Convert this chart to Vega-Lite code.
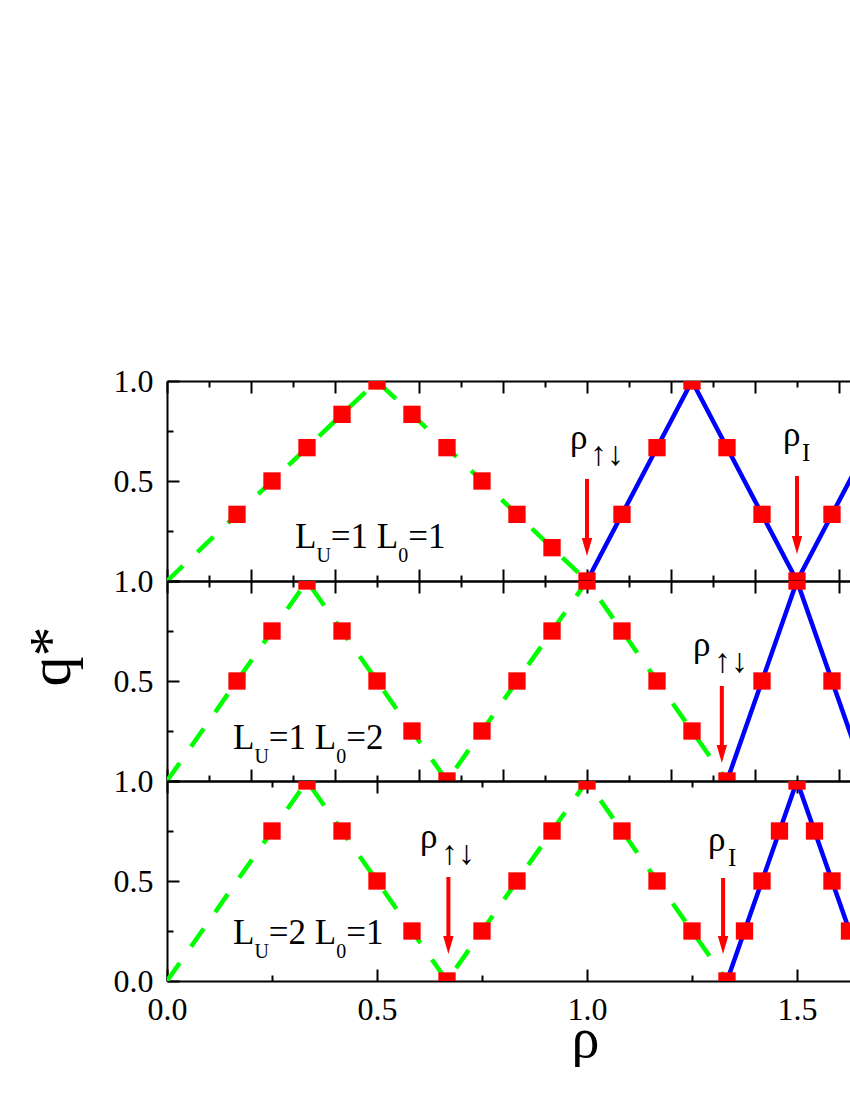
{
  "$schema": "https://vega.github.io/schema/vega-lite/v6.json",
  "padding": {"left": 21, "top": 365, "right": 0, "bottom": 0},
  "background": "white",
  "bounds": "flush",
  "spacing": 0,
  "config": {
    "view": {"stroke": null},
    "concat": {"spacing": 0},
    "axis": {
      "domainColor": "black", "domainWidth": 2, "tickColor": "black", "tickWidth": 2,
      "grid": false, "labelFont": "Liberation Serif", "labelFontSize": 32, "labelColor": "black",
      "titleFont": "Liberation Serif", "titleFontWeight": "normal", "titleColor": "black",
      "labelFlush": false, "labelOverlap": false
    },
    "text": {"font": "Liberation Serif", "color": "black"}
  },
  "datasets": {
    "green": [
      {"panel": 1, "rho": 0, "q": 0}, {"panel": 1, "rho": 0.5, "q": 1}, {"panel": 1, "rho": 1, "q": 0},
      {"panel": 2, "rho": 0, "q": 0}, {"panel": 2, "rho": 0.3333, "q": 1}, {"panel": 2, "rho": 0.6667, "q": 0}, {"panel": 2, "rho": 1, "q": 1}, {"panel": 2, "rho": 1.3333, "q": 0},
      {"panel": 3, "rho": 0, "q": 0}, {"panel": 3, "rho": 0.3333, "q": 1}, {"panel": 3, "rho": 0.6667, "q": 0}, {"panel": 3, "rho": 1, "q": 1}, {"panel": 3, "rho": 1.3333, "q": 0}
    ],
    "blue": [
      {"panel": 1, "rho": 1, "q": 0}, {"panel": 1, "rho": 1.25, "q": 1}, {"panel": 1, "rho": 1.5, "q": 0}, {"panel": 1, "rho": 1.75, "q": 1},
      {"panel": 2, "rho": 1.3333, "q": 0}, {"panel": 2, "rho": 1.5, "q": 1}, {"panel": 2, "rho": 1.6667, "q": 0},
      {"panel": 3, "rho": 1.3333, "q": 0}, {"panel": 3, "rho": 1.5, "q": 1}, {"panel": 3, "rho": 1.6667, "q": 0}
    ],
    "squares": [
      {"panel": 1, "rho": 0.1667, "q": 0.3333}, {"panel": 1, "rho": 0.25, "q": 0.5}, {"panel": 1, "rho": 0.3333, "q": 0.6667}, {"panel": 1, "rho": 0.4167, "q": 0.8333}, {"panel": 1, "rho": 0.5, "q": 1}, {"panel": 1, "rho": 0.5833, "q": 0.8333}, {"panel": 1, "rho": 0.6667, "q": 0.6667}, {"panel": 1, "rho": 0.75, "q": 0.5}, {"panel": 1, "rho": 0.8333, "q": 0.3333}, {"panel": 1, "rho": 0.9167, "q": 0.1667}, {"panel": 1, "rho": 1, "q": 0},
      {"panel": 1, "rho": 1.0833, "q": 0.3333}, {"panel": 1, "rho": 1.1667, "q": 0.6667}, {"panel": 1, "rho": 1.25, "q": 1}, {"panel": 1, "rho": 1.3333, "q": 0.6667}, {"panel": 1, "rho": 1.4167, "q": 0.3333}, {"panel": 1, "rho": 1.5, "q": 0}, {"panel": 1, "rho": 1.5833, "q": 0.3333},
      {"panel": 2, "rho": 0.1667, "q": 0.5}, {"panel": 2, "rho": 0.25, "q": 0.75}, {"panel": 2, "rho": 0.3333, "q": 1}, {"panel": 2, "rho": 0.4167, "q": 0.75}, {"panel": 2, "rho": 0.5, "q": 0.5}, {"panel": 2, "rho": 0.5833, "q": 0.25}, {"panel": 2, "rho": 0.6667, "q": 0}, {"panel": 2, "rho": 0.75, "q": 0.25}, {"panel": 2, "rho": 0.8333, "q": 0.5}, {"panel": 2, "rho": 0.9167, "q": 0.75}, {"panel": 2, "rho": 1, "q": 1}, {"panel": 2, "rho": 1.0833, "q": 0.75}, {"panel": 2, "rho": 1.1667, "q": 0.5}, {"panel": 2, "rho": 1.25, "q": 0.25}, {"panel": 2, "rho": 1.3333, "q": 0},
      {"panel": 2, "rho": 1.4167, "q": 0.5}, {"panel": 2, "rho": 1.5, "q": 1}, {"panel": 2, "rho": 1.5833, "q": 0.5},
      {"panel": 3, "rho": 0.25, "q": 0.75}, {"panel": 3, "rho": 0.3333, "q": 1}, {"panel": 3, "rho": 0.4167, "q": 0.75}, {"panel": 3, "rho": 0.5, "q": 0.5}, {"panel": 3, "rho": 0.5833, "q": 0.25}, {"panel": 3, "rho": 0.6667, "q": 0}, {"panel": 3, "rho": 0.75, "q": 0.25}, {"panel": 3, "rho": 0.8333, "q": 0.5}, {"panel": 3, "rho": 0.9167, "q": 0.75}, {"panel": 3, "rho": 1, "q": 1}, {"panel": 3, "rho": 1.0833, "q": 0.75}, {"panel": 3, "rho": 1.1667, "q": 0.5}, {"panel": 3, "rho": 1.25, "q": 0.25}, {"panel": 3, "rho": 1.3333, "q": 0},
      {"panel": 3, "rho": 1.375, "q": 0.25}, {"panel": 3, "rho": 1.4167, "q": 0.5}, {"panel": 3, "rho": 1.4583, "q": 0.75}, {"panel": 3, "rho": 1.5, "q": 1}, {"panel": 3, "rho": 1.5417, "q": 0.75}, {"panel": 3, "rho": 1.5833, "q": 0.5}, {"panel": 3, "rho": 1.625, "q": 0.25}
    ],
    "arrows": [
      {"panel": 1, "rho": 1.0, "q_top": 0.51, "q_head": 0.195, "q_tip": 0.125},
      {"panel": 1, "rho": 1.5, "q_top": 0.525, "q_head": 0.205, "q_tip": 0.135},
      {"panel": 2, "rho": 1.321, "q_top": 0.475, "q_head": 0.16, "q_tip": 0.09},
      {"panel": 3, "rho": 0.67, "q_top": 0.52, "q_head": 0.205, "q_tip": 0.135},
      {"panel": 3, "rho": 1.324, "q_top": 0.515, "q_head": 0.205, "q_tip": 0.135}
    ],
    "texts": [
      {"panel": 1, "label": "L", "role": "main", "rho": 0.305, "q": 0.165, "text": "L"},
      {"panel": 1, "label": "L", "role": "sub", "rho": 0.3557, "q": 0.165, "text": "U"},
      {"panel": 1, "label": "L", "role": "main", "rho": 0.39, "q": 0.165, "text": "=1 L"},
      {"panel": 1, "label": "L", "role": "sub", "rho": 0.5505, "q": 0.165, "text": "0"},
      {"panel": 1, "label": "L", "role": "main", "rho": 0.5743, "q": 0.165, "text": "=1"},
      {"panel": 2, "label": "L", "role": "main", "rho": 0.1571, "q": 0.16, "text": "L"},
      {"panel": 2, "label": "L", "role": "sub", "rho": 0.2081, "q": 0.16, "text": "U"},
      {"panel": 2, "label": "L", "role": "main", "rho": 0.2424, "q": 0.16, "text": "=1 L"},
      {"panel": 2, "label": "L", "role": "sub", "rho": 0.4029, "q": 0.16, "text": "0"},
      {"panel": 2, "label": "L", "role": "main", "rho": 0.4267, "q": 0.16, "text": "=2"},
      {"panel": 3, "label": "L", "role": "main", "rho": 0.1571, "q": 0.185, "text": "L"},
      {"panel": 3, "label": "L", "role": "sub", "rho": 0.2081, "q": 0.185, "text": "U"},
      {"panel": 3, "label": "L", "role": "main", "rho": 0.2424, "q": 0.185, "text": "=2 L"},
      {"panel": 3, "label": "L", "role": "sub", "rho": 0.4029, "q": 0.185, "text": "0"},
      {"panel": 3, "label": "L", "role": "main", "rho": 0.4267, "q": 0.185, "text": "=1"},
      {"panel": 1, "label": "rho", "role": "main", "rho": 0.9595, "q": 0.66, "text": "ρ"},
      {"panel": 1, "label": "rho", "role": "sub", "rho": 1.0071, "q": 0.66, "text": "↑↓"},
      {"panel": 1, "label": "rho", "role": "main", "rho": 1.4667, "q": 0.675, "text": "ρ"},
      {"panel": 1, "label": "rho", "role": "sub", "rho": 1.512, "q": 0.675, "text": "I"},
      {"panel": 2, "label": "rho", "role": "main", "rho": 1.2524, "q": 0.625, "text": "ρ"},
      {"panel": 2, "label": "rho", "role": "sub", "rho": 1.3024, "q": 0.625, "text": "↑↓"},
      {"panel": 3, "label": "rho", "role": "main", "rho": 0.6024, "q": 0.665, "text": "ρ"},
      {"panel": 3, "label": "rho", "role": "sub", "rho": 0.6524, "q": 0.665, "text": "↑↓"},
      {"panel": 3, "label": "rho", "role": "main", "rho": 1.288, "q": 0.65, "text": "ρ"},
      {"panel": 3, "label": "rho", "role": "sub", "rho": 1.3357, "q": 0.65, "text": "I"}
    ]
  },
  "vconcat": [
    {
      "width": 683, "height": 200,
      "resolve": {"axis": {"x": "independent"}},
      "layer": [
        {"data": {"name": "green"}, "transform": [{"filter": "datum.panel == 1"}],
         "mark": {"type": "line", "color": "#00FF00", "strokeWidth": 4.5, "strokeDash": [22, 20], "clip": true},
         "encoding": {
           "x": {"field": "rho", "type": "quantitative", "scale": {"domain": [0, 1.6262], "nice": false, "zero": false},
                 "axis": {"orient": "bottom", "values": [0, 0.1, 0.2, 0.3, 0.4, 0.5, 0.6, 0.7, 0.8, 0.9, 1, 1.1, 1.2, 1.3, 1.4, 1.5, 1.6], "labels": false, "title": null,
                          "tickSize": {"condition": {"test": "round(datum.value*10) % 2 == 0", "value": -12}, "value": -6}}},
           "y": {"field": "q", "type": "quantitative", "scale": {"domain": [0, 1], "nice": false},
                 "axis": {"values": [0, 0.25, 0.5, 0.75, 1], "title": null, "labelPadding": 26, "labelFont": "Liberation Serif", "labelFontSize": 32,
                          "labelExpr": "datum.value == 0.5 || datum.value == 1 ? format(datum.value, '.1f') : ''",
                          "tickSize": {"condition": {"test": "datum.value % 0.5 == 0", "value": -12}, "value": -6}}},
           "order": {"field": "rho"}
         }},
        {"data": {"name": "blue"}, "transform": [{"filter": "datum.panel == 1"}],
         "mark": {"type": "line", "color": "#0000FF", "strokeWidth": 4.5, "clip": true},
         "encoding": {
           "x": {"field": "rho", "type": "quantitative",
                 "axis": {"orient": "top", "values": [0, 0.1, 0.2, 0.3, 0.4, 0.5, 0.6, 0.7, 0.8, 0.9, 1, 1.1, 1.2, 1.3, 1.4, 1.5, 1.6], "labels": false, "title": null,
                          "tickSize": {"condition": {"test": "round(datum.value*10) % 2 == 0", "value": -12}, "value": -6}}},
           "y": {"field": "q", "type": "quantitative"},
           "order": {"field": "rho"}
         }},
        {"data": {"name": "squares"}, "transform": [{"filter": "datum.panel == 1"}],
         "mark": {"type": "point", "shape": "square", "filled": true, "color": "#FF0000", "opacity": 1, "size": 300, "clip": true},
         "encoding": {"x": {"field": "rho", "type": "quantitative", "axis": null}, "y": {"field": "q", "type": "quantitative"}}},
        {"data": {"name": "arrows"}, "transform": [{"filter": "datum.panel == 1"}],
         "mark": {"type": "rule", "color": "#FF0000", "strokeWidth": 4},
         "encoding": {"x": {"field": "rho", "type": "quantitative", "axis": null}, "y": {"field": "q_top", "type": "quantitative"}, "y2": {"field": "q_head"}}},
        {"data": {"name": "arrows"}, "transform": [{"filter": "datum.panel == 1"}],
         "mark": {"type": "point", "shape": "M0,0 L-0.26,-0.9 L0.26,-0.9 Z", "filled": true, "color": "#FF0000", "opacity": 1, "size": 1600},
         "encoding": {"x": {"field": "rho", "type": "quantitative", "axis": null}, "y": {"field": "q_tip", "type": "quantitative"}}},
        {"data": {"name": "texts"}, "transform": [{"filter": "datum.panel == 1 && datum.role == 'main'"}],
         "mark": {"type": "text", "align": "left", "baseline": "alphabetic", "fontSize": 35},
         "encoding": {"x": {"field": "rho", "type": "quantitative", "axis": null}, "y": {"field": "q", "type": "quantitative"}, "text": {"field": "text"}}},
        {"data": {"name": "texts"}, "transform": [{"filter": "datum.panel == 1 && datum.role == 'sub' && datum.label == 'L'"}],
         "mark": {"type": "text", "align": "left", "baseline": "alphabetic", "fontSize": 20, "dy": 14},
         "encoding": {"x": {"field": "rho", "type": "quantitative", "axis": null}, "y": {"field": "q", "type": "quantitative"}, "text": {"field": "text"}}},
        {"data": {"name": "texts"}, "transform": [{"filter": "datum.panel == 1 && datum.role == 'sub' && datum.label == 'rho' && datum.text != 'I'"}],
         "mark": {"type": "text", "align": "left", "baseline": "alphabetic", "fontSize": 34, "dy": 16},
         "encoding": {"x": {"field": "rho", "type": "quantitative", "axis": null}, "y": {"field": "q", "type": "quantitative"}, "text": {"field": "text"}}},
        {"data": {"name": "texts"}, "transform": [{"filter": "datum.panel == 1 && datum.role == 'sub' && datum.text == 'I'"}],
         "mark": {"type": "text", "align": "left", "baseline": "alphabetic", "fontSize": 25, "dy": 15},
         "encoding": {"x": {"field": "rho", "type": "quantitative", "axis": null}, "y": {"field": "q", "type": "quantitative"}, "text": {"field": "text"}}}
      ]
    },
    {
      "width": 683, "height": 200,
      "resolve": {"axis": {"x": "independent"}},
      "layer": [
        {"data": {"name": "green"}, "transform": [{"filter": "datum.panel == 2"}],
         "mark": {"type": "line", "color": "#00FF00", "strokeWidth": 4.5, "strokeDash": [22, 20], "clip": true},
         "encoding": {
           "x": {"field": "rho", "type": "quantitative", "scale": {"domain": [0, 1.6262], "nice": false, "zero": false},
                 "axis": {"orient": "bottom", "values": [0, 0.1, 0.2, 0.3, 0.4, 0.5, 0.6, 0.7, 0.8, 0.9, 1, 1.1, 1.2, 1.3, 1.4, 1.5, 1.6], "labels": false, "title": null,
                          "tickSize": {"condition": {"test": "round(datum.value*10) % 2 == 0", "value": -12}, "value": -6}}},
           "y": {"field": "q", "type": "quantitative", "scale": {"domain": [0, 1], "nice": false},
                 "axis": {"values": [0, 0.25, 0.5, 0.75, 1], "title": "q*", "titleFontSize": 60, "titleFont": "Liberation Serif", "titleAngle": -90, "titleAlign": "center", "titleBaseline": "alphabetic", "titleX": -98, "titleY": 75,
                          "labelPadding": 26, "labelFont": "Liberation Serif", "labelFontSize": 32,
                          "labelExpr": "datum.value == 0.5 || datum.value == 1 ? format(datum.value, '.1f') : ''",
                          "tickSize": {"condition": {"test": "datum.value % 0.5 == 0", "value": -12}, "value": -6}}},
           "order": {"field": "rho"}
         }},
        {"data": {"name": "blue"}, "transform": [{"filter": "datum.panel == 2"}],
         "mark": {"type": "line", "color": "#0000FF", "strokeWidth": 4.5, "clip": true},
         "encoding": {
           "x": {"field": "rho", "type": "quantitative",
                 "axis": {"orient": "top", "values": [0, 0.1, 0.2, 0.3, 0.4, 0.5, 0.6, 0.7, 0.8, 0.9, 1, 1.1, 1.2, 1.3, 1.4, 1.5, 1.6], "labels": false, "title": null,
                          "tickSize": {"condition": {"test": "round(datum.value*10) % 2 == 0", "value": -12}, "value": -6}}},
           "y": {"field": "q", "type": "quantitative"},
           "order": {"field": "rho"}
         }},
        {"data": {"name": "squares"}, "transform": [{"filter": "datum.panel == 2"}],
         "mark": {"type": "point", "shape": "square", "filled": true, "color": "#FF0000", "opacity": 1, "size": 300, "clip": true},
         "encoding": {"x": {"field": "rho", "type": "quantitative", "axis": null}, "y": {"field": "q", "type": "quantitative"}}},
        {"data": {"name": "arrows"}, "transform": [{"filter": "datum.panel == 2"}],
         "mark": {"type": "rule", "color": "#FF0000", "strokeWidth": 4},
         "encoding": {"x": {"field": "rho", "type": "quantitative", "axis": null}, "y": {"field": "q_top", "type": "quantitative"}, "y2": {"field": "q_head"}}},
        {"data": {"name": "arrows"}, "transform": [{"filter": "datum.panel == 2"}],
         "mark": {"type": "point", "shape": "M0,0 L-0.26,-0.9 L0.26,-0.9 Z", "filled": true, "color": "#FF0000", "opacity": 1, "size": 1600},
         "encoding": {"x": {"field": "rho", "type": "quantitative", "axis": null}, "y": {"field": "q_tip", "type": "quantitative"}}},
        {"data": {"name": "texts"}, "transform": [{"filter": "datum.panel == 2 && datum.role == 'main'"}],
         "mark": {"type": "text", "align": "left", "baseline": "alphabetic", "fontSize": 35},
         "encoding": {"x": {"field": "rho", "type": "quantitative", "axis": null}, "y": {"field": "q", "type": "quantitative"}, "text": {"field": "text"}}},
        {"data": {"name": "texts"}, "transform": [{"filter": "datum.panel == 2 && datum.role == 'sub' && datum.label == 'L'"}],
         "mark": {"type": "text", "align": "left", "baseline": "alphabetic", "fontSize": 20, "dy": 14},
         "encoding": {"x": {"field": "rho", "type": "quantitative", "axis": null}, "y": {"field": "q", "type": "quantitative"}, "text": {"field": "text"}}},
        {"data": {"name": "texts"}, "transform": [{"filter": "datum.panel == 2 && datum.role == 'sub' && datum.label == 'rho' && datum.text != 'I'"}],
         "mark": {"type": "text", "align": "left", "baseline": "alphabetic", "fontSize": 34, "dy": 16},
         "encoding": {"x": {"field": "rho", "type": "quantitative", "axis": null}, "y": {"field": "q", "type": "quantitative"}, "text": {"field": "text"}}}
      ]
    },
    {
      "width": 683, "height": 200,
      "resolve": {"axis": {"x": "independent"}},
      "layer": [
        {"data": {"name": "green"}, "transform": [{"filter": "datum.panel == 3"}],
         "mark": {"type": "line", "color": "#00FF00", "strokeWidth": 4.5, "strokeDash": [22, 20], "clip": true},
         "encoding": {
           "x": {"field": "rho", "type": "quantitative", "scale": {"domain": [0, 1.6262], "nice": false, "zero": false},
                 "axis": {"orient": "bottom", "values": [0, 0.25, 0.5, 0.75, 1, 1.25, 1.5], "title": "ρ", "titleFontSize": 56, "titleFont": "Liberation Serif", "titleX": 418, "titleY": 75, "titleBaseline": "alphabetic", "titleAlign": "center",
                          "labelPadding": 25, "labelBaseline": "top", "labelFont": "Liberation Serif", "labelFontSize": 32,
                          "labelExpr": "datum.value % 0.5 == 0 ? format(datum.value, '.1f') : ''",
                          "tickSize": {"condition": {"test": "datum.value % 0.5 == 0", "value": -12}, "value": -6}}},
           "y": {"field": "q", "type": "quantitative", "scale": {"domain": [0, 1], "nice": false},
                 "axis": {"values": [0, 0.25, 0.5, 0.75, 1], "title": null, "labelPadding": 26, "labelFont": "Liberation Serif", "labelFontSize": 32,
                          "labelExpr": "datum.value % 0.5 == 0 ? format(datum.value, '.1f') : ''",
                          "tickSize": {"condition": {"test": "datum.value % 0.5 == 0", "value": -12}, "value": -6}}},
           "order": {"field": "rho"}
         }},
        {"data": {"name": "blue"}, "transform": [{"filter": "datum.panel == 3"}],
         "mark": {"type": "line", "color": "#0000FF", "strokeWidth": 4.5, "clip": true},
         "encoding": {
           "x": {"field": "rho", "type": "quantitative",
                 "axis": {"orient": "top", "values": [0, 0.25, 0.5, 0.75, 1, 1.25, 1.5], "labels": false, "title": null,
                          "tickSize": {"condition": {"test": "datum.value % 0.5 == 0", "value": -12}, "value": -6}}},
           "y": {"field": "q", "type": "quantitative"},
           "order": {"field": "rho"}
         }},
        {"data": {"name": "squares"}, "transform": [{"filter": "datum.panel == 3"}],
         "mark": {"type": "point", "shape": "square", "filled": true, "color": "#FF0000", "opacity": 1, "size": 300, "clip": true},
         "encoding": {"x": {"field": "rho", "type": "quantitative", "axis": null}, "y": {"field": "q", "type": "quantitative"}}},
        {"data": {"name": "arrows"}, "transform": [{"filter": "datum.panel == 3"}],
         "mark": {"type": "rule", "color": "#FF0000", "strokeWidth": 4},
         "encoding": {"x": {"field": "rho", "type": "quantitative", "axis": null}, "y": {"field": "q_top", "type": "quantitative"}, "y2": {"field": "q_head"}}},
        {"data": {"name": "arrows"}, "transform": [{"filter": "datum.panel == 3"}],
         "mark": {"type": "point", "shape": "M0,0 L-0.26,-0.9 L0.26,-0.9 Z", "filled": true, "color": "#FF0000", "opacity": 1, "size": 1600},
         "encoding": {"x": {"field": "rho", "type": "quantitative", "axis": null}, "y": {"field": "q_tip", "type": "quantitative"}}},
        {"data": {"name": "texts"}, "transform": [{"filter": "datum.panel == 3 && datum.role == 'main'"}],
         "mark": {"type": "text", "align": "left", "baseline": "alphabetic", "fontSize": 35},
         "encoding": {"x": {"field": "rho", "type": "quantitative", "axis": null}, "y": {"field": "q", "type": "quantitative"}, "text": {"field": "text"}}},
        {"data": {"name": "texts"}, "transform": [{"filter": "datum.panel == 3 && datum.role == 'sub' && datum.label == 'L'"}],
         "mark": {"type": "text", "align": "left", "baseline": "alphabetic", "fontSize": 20, "dy": 14},
         "encoding": {"x": {"field": "rho", "type": "quantitative", "axis": null}, "y": {"field": "q", "type": "quantitative"}, "text": {"field": "text"}}},
        {"data": {"name": "texts"}, "transform": [{"filter": "datum.panel == 3 && datum.role == 'sub' && datum.label == 'rho' && datum.text != 'I'"}],
         "mark": {"type": "text", "align": "left", "baseline": "alphabetic", "fontSize": 34, "dy": 16},
         "encoding": {"x": {"field": "rho", "type": "quantitative", "axis": null}, "y": {"field": "q", "type": "quantitative"}, "text": {"field": "text"}}},
        {"data": {"name": "texts"}, "transform": [{"filter": "datum.panel == 3 && datum.role == 'sub' && datum.text == 'I'"}],
         "mark": {"type": "text", "align": "left", "baseline": "alphabetic", "fontSize": 25, "dy": 15},
         "encoding": {"x": {"field": "rho", "type": "quantitative", "axis": null}, "y": {"field": "q", "type": "quantitative"}, "text": {"field": "text"}}}
      ]
    }
  ]
}
